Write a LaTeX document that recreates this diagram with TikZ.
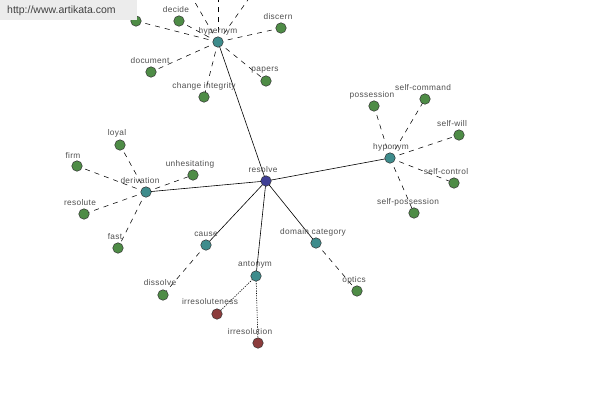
\documentclass[tikz,border=0pt]{standalone}
\usepackage{fontspec}
\setmainfont{Liberation Sans}
\newfontfamily\lblfont[LetterSpace=4]{Liberation Sans}
\usetikzlibrary{backgrounds}
\definecolor{leafc}{RGB}{78,140,70}
\definecolor{hubc}{RGB}{62,140,140}
\definecolor{rootc}{RGB}{64,64,150}
\definecolor{antc}{RGB}{140,60,60}
\definecolor{txtc}{RGB}{80,80,80}
\definecolor{wmbox}{RGB}{236,236,236}
\tikzset{
  dot/.style={circle,draw=black!80,line width=0.5pt,minimum size=10.5pt,inner sep=0pt},
  leaf/.style={dot,fill=leafc},
  hub/.style={dot,fill=hubc},
  root/.style={dot,fill=rootc},
  ant/.style={dot,fill=antc},
  lbl/.style={font=\lblfont\fontsize{8.3}{9}\selectfont,text=txtc,inner sep=0pt},
  rel/.style={line width=0.6pt,black},
  sub/.style={line width=0.55pt,black,dash pattern=on 5pt off 5pt},
  opp/.style={line width=0.6pt,black,dash pattern=on 1.2pt off 1.2pt},
}
\begin{document}
\begin{tikzpicture}[x=1pt,y=-1pt]
\useasboundingbox (0,0) rectangle (600,400);
\clip (0,0) rectangle (600,400);
% hubs
\node[root] (resolve) at (266,181) {};
\node[lbl] (resolve-t) at (263,170) {resolve};
\node[hub] (hyper) at (218,42) {};
\node[lbl] (hyper-t) at (218,31) {hypernym};
\node[hub] (hypo) at (390,158) {};
\node[lbl] (hypo-t) at (391,147) {hyponym};
\node[hub] (deriv) at (146,192) {};
\node[lbl] (deriv-t) at (140,181) {derivation};
\node[hub] (cause) at (206,245) {};
\node[lbl] (cause-t) at (206,234) {cause};
\node[hub] (anto) at (256,276) {};
\node[lbl] (anto-t) at (255,265) {antonym};
\node[hub] (domain) at (316,243) {};
\node[lbl] (domain-t) at (313,232) {domain category};
% hypernym leaves
\node[leaf] (h0) at (136,21) {};
\node[leaf] (decide) at (179,21) {};
\node[lbl] (decide-t) at (176,10) {decide};
\node[leaf] (discern) at (281,28) {};
\node[lbl] (discern-t) at (278,17) {discern};
\node[leaf] (document) at (151,72) {};
\node[lbl] (document-t) at (150,61) {document};
\node[leaf] (change) at (204,97) {};
\node[lbl] (change-t) at (204,86) {change integrity};
\node[leaf] (papers) at (266,81) {};
\node[lbl] (papers-t) at (265,70) {papers};
\coordinate (h1) at (182,-20);
\coordinate (h2) at (218,-25);
\coordinate (h3) at (262,-20);
% derivation leaves
\node[leaf] (loyal) at (120,145) {};
\node[lbl] (loyal-t) at (117,133) {loyal};
\node[leaf] (firm) at (77,166) {};
\node[lbl] (firm-t) at (73,155) {firm};
\node[leaf] (unhes) at (193,175) {};
\node[lbl] (unhes-t) at (190,164) {unhesitating};
\node[leaf] (resolute) at (84,214) {};
\node[lbl] (resolute-t) at (80,203) {resolute};
\node[leaf] (fast) at (118,248) {};
\node[lbl] (fast-t) at (115,237) {fast};
% hyponym leaves
\node[leaf] (poss) at (374,106) {};
\node[lbl] (poss-t) at (372,95) {possession};
\node[leaf] (scmd) at (425,99) {};
\node[lbl] (scmd-t) at (423,88) {self-command};
\node[leaf] (swill) at (459,135) {};
\node[lbl] (swill-t) at (452,124) {self-will};
\node[leaf] (sctrl) at (454,183) {};
\node[lbl] (sctrl-t) at (446,172) {self-control};
\node[leaf] (sposs) at (414,213) {};
\node[lbl] (sposs-t) at (408,202) {self-possession};
% other leaves
\node[leaf] (dissolve) at (163,295) {};
\node[lbl] (dissolve-t) at (160,283) {dissolve};
\node[ant] (irrness) at (217,314) {};
\node[lbl] (irrness-t) at (210,302) {irresoluteness};
\node[ant] (irrtion) at (258,343) {};
\node[lbl] (irrtion-t) at (250,332) {irresolution};
\node[leaf] (optics) at (357,291) {};
\node[lbl] (optics-t) at (354,280) {optics};
% edges
\begin{scope}[on background layer]
\fill[white] (0,0) rectangle (600,400);
\draw[rel] (resolve.center) -- (hyper.center);
\draw[rel] (resolve.center) -- (hypo.center);
\draw[rel] (resolve.center) -- (deriv.center);
\draw[rel] (resolve.center) -- (cause.center);
\draw[rel] (resolve.center) -- (anto.center);
\draw[rel] (resolve.center) -- (domain.center);
\foreach \n in {h0,decide,discern,document,change,papers}
  \draw[sub] (hyper.center) -- (\n.center);
\foreach \n in {h1,h2,h3}
  \draw[sub] (hyper.center) -- (\n);
\foreach \n in {loyal,firm,unhes,resolute,fast}
  \draw[sub] (deriv.center) -- (\n.center);
\foreach \n in {poss,scmd,swill,sctrl,sposs}
  \draw[sub] (hypo.center) -- (\n.center);
\draw[sub] (cause.center) -- (dissolve.center);
\draw[sub] (domain.center) -- (optics.center);
\draw[opp] (anto.center) -- (irrness.center);
\draw[opp] (anto.center) -- (irrtion.center);
\end{scope}
% watermark
\node[fill=wmbox,minimum width=137pt,minimum height=20pt,inner sep=0pt,anchor=north west] (wm) at (0,0) {};
\node[font=\fontsize{10.5}{12}\selectfont,text=black!75,anchor=west,inner sep=0pt] (wm-t) at (7,11) {http://www.artikata.com};
\end{tikzpicture}
\end{document}
